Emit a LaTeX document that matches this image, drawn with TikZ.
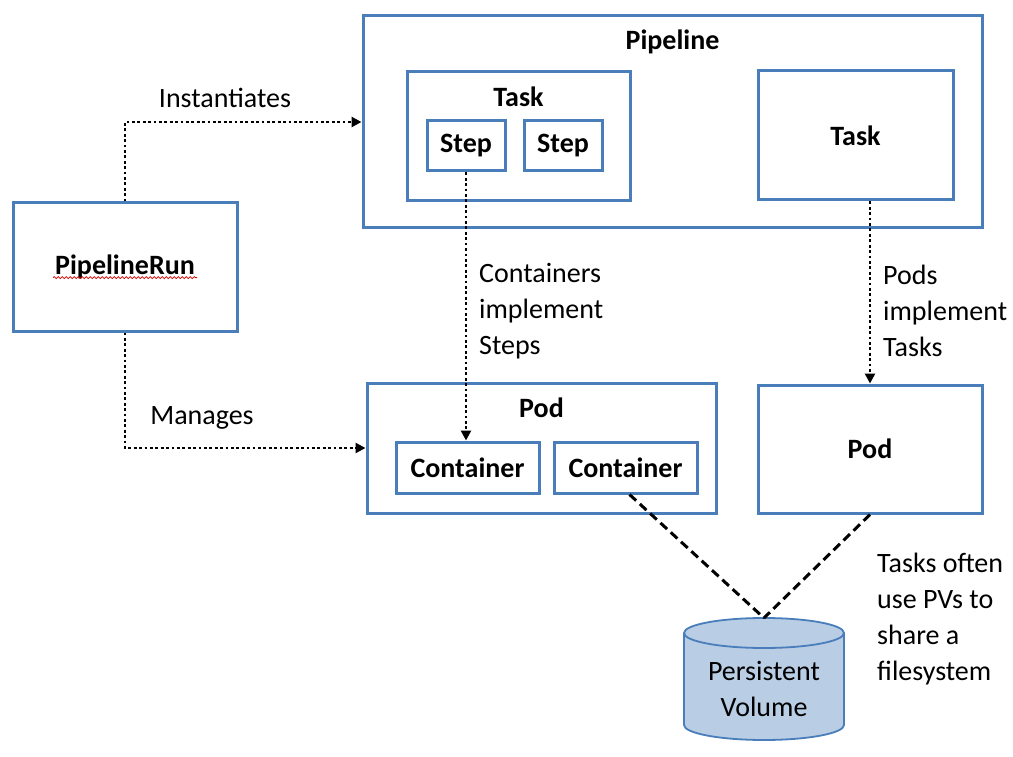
\documentclass[tikz,border=0pt]{standalone}
\usepackage{fontspec}
\setmainfont{Carlito}
\usetikzlibrary{arrows.meta,shadows,decorations.pathmorphing}
\definecolor{boxblue}{RGB}{74,126,187}
\definecolor{pvblue}{RGB}{185,205,229}
\tikzset{
  box/.style={draw=boxblue, line width=3pt, fill=white, inner sep=0pt, font=\bfseries,
    drop shadow={shadow xshift=1.5pt, shadow yshift=-1.5pt, opacity=0.3, fill=black!60}},
  ttl/.style={font=\bfseries, inner sep=0pt},
  lbl/.style={inner sep=0pt, align=left},
  flow/.style={line width=2.8pt, dash pattern=on 2.8pt off 2.6pt, -{Triangle[length=10pt,width=10pt]}},
  share/.style={line width=3pt, dash pattern=on 9pt off 5pt},
  pvline/.style={draw=boxblue, line width=1.8pt},
  squiggle/.style={red!85!black, line width=0.8pt, decorate,
    decoration={snake, segment length=4pt, amplitude=1pt}}
}
\begin{document}
\fontsize{28}{36}\selectfont
\begin{tikzpicture}[x=1pt,y=-1pt]
\useasboundingbox (0,0) rectangle (1013,757);
% pipeline with its tasks
\node[box, minimum width=619pt, minimum height=212pt] (pipeline) at (672.5,122) {};
\node[ttl] (pipelinettl) at (672.5,42) {Pipeline};
\node[box, minimum width=223pt, minimum height=129pt] (task1) at (518.5,136.5) {};
\node[ttl] (task1ttl) at (518.5,97) {Task};
\node[box, minimum width=78pt, minimum height=50pt] (step1) at (466,146) {Step};
\node[box, minimum width=78pt, minimum height=50pt] (step2) at (563,146) {Step};
\node[box, minimum width=195pt, minimum height=129pt] (task2) at (855.5,135.5) {Task};
% run
\node[box, minimum width=224pt, minimum height=128pt] (run) at (125,267) {PipelineRun};
\draw[squiggle] ([xshift=-72pt,yshift=-3pt]run.base) -- ([xshift=72pt,yshift=-3pt]run.base);
% pods
\node[box, minimum width=349pt, minimum height=130pt] (pod1) at (541.5,448) {};
\node[ttl] (pod1ttl) at (541.5,408) {Pod};
\node[box, minimum width=143pt, minimum height=51pt] (con1) at (467.5,467.5) {Container};
\node[box, minimum width=143pt, minimum height=51pt] (con2) at (625.5,467.5) {Container};
\node[box, minimum width=224pt, minimum height=128pt] (pod2) at (870,449) {Pod};
% persistent volume
\fill[pvblue] (684,633) -- (684,725) arc[start angle=180, end angle=0, x radius=80, y radius=15] -- (844,633) -- cycle;
\draw[pvline] (684,633) -- (684,725) arc[start angle=180, end angle=0, x radius=80, y radius=15] -- (844,633);
\draw[pvline, fill=pvblue] (764,633) ellipse [x radius=80, y radius=15];
\coordinate (pv) at (764,618);
\node[align=center, inner sep=0pt] (pvtext) at (764,689) {Persistent\\Volume};
% connectors
\draw[flow] (run.north) |- (pipeline.west);
\draw[flow] (run.south) |- (pod1.west);
\draw[flow] (step1.south) -- (step1.south |- con1.north);
\draw[flow] (pod2.north |- task2.south) -- (pod2.north);
\draw[share] ([xshift=4pt]con2.south) -- (pv);
\draw[share] (pod2.south) -- (pv);
% labels
\node[lbl] (inst) at (225,98) {Instantiates};
\node[lbl] (mng) at (202,418) {Manages};
\node[lbl, anchor=west] (stepimpl) at (479,311) {Containers\\implement\\Steps};
\node[lbl, anchor=west] (taskimpl) at (883,311) {Pods\\implement\\Tasks};
\node[lbl, anchor=west] (pvnote) at (877,619) {Tasks often\\use PVs to\\share a\\filesystem};
\end{tikzpicture}
\end{document}
